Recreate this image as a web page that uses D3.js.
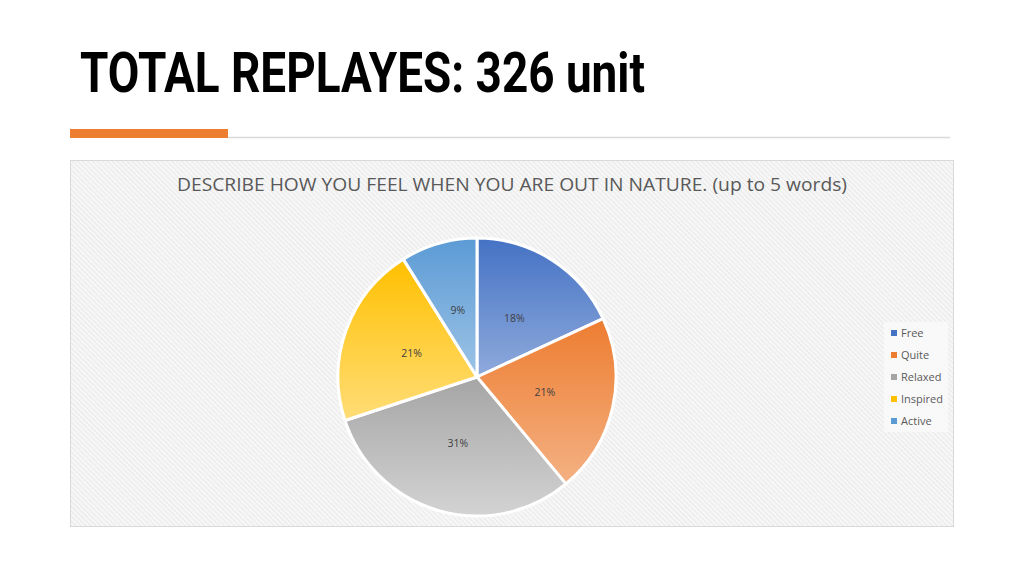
<!DOCTYPE html>
<html>
<head>
<meta charset="utf-8">
<script src="https://d3js.org/d3.v7.min.js"></script>
<style>
  body { margin: 0; padding: 0; background: #fff; }
  svg { display: block; }
  .title { font-family: Roboto, 'Liberation Sans', sans-serif; font-weight: 700; fill: #000; }
  .ctitle { font-family: 'Open Sans', 'Liberation Sans', sans-serif; fill: #595959; }
  .lbl { font-family: 'Open Sans', 'Liberation Sans', sans-serif; font-size: 10.5px; fill: #404040; }
  .leg { font-family: 'Open Sans', 'Liberation Sans', sans-serif; font-size: 11px; fill: #595959; }
</style>
</head>
<body>
<script>
// data (326 replies in total)
var categories = ["Free", "Quite", "Relaxed", "Inspired", "Active"];
var counts = [59, 68, 101, 69, 29];
var topColors = ["#4472C4", "#ED7D31", "#A5A5A5", "#FFC000", "#5B9BD5"];
var bottomColors = ["#8FAADC", "#F4B183", "#D3D3D3", "#FFDD77", "#9DC3E6"];

var W = 1024, H = 576;
var svg = d3.select("body").append("svg").attr("width", W).attr("height", H);
var defs = svg.append("defs");

// hatched background of the chart box
var pat = defs.append("pattern")
    .attr("id", "hatch").attr("patternUnits", "userSpaceOnUse")
    .attr("width", 3.5).attr("height", 3.5)
    .attr("patternTransform", "rotate(-45)");
pat.append("rect").attr("width", 3.5).attr("height", 3.5).attr("fill", "#f6f6f6");
pat.append("line").attr("x1", 0).attr("y1", 0).attr("x2", 0).attr("y2", 3.5)
    .attr("stroke", "#e2e2e2").attr("stroke-width", 1.2);

categories.forEach(function (c, i) {
    var g = defs.append("linearGradient").attr("id", "grad" + i)
        .attr("x1", 0).attr("y1", 0).attr("x2", 0).attr("y2", 1);
    g.append("stop").attr("offset", "0%").attr("stop-color", topColors[i]);
    g.append("stop").attr("offset", "100%").attr("stop-color", bottomColors[i]);
});

// slide title
svg.append("text").attr("class", "title")
    .attr("x", 80).attr("y", 92)
    .attr("font-size", 50).attr("transform", "translate(0,-9.2) scale(1,1.1)")
    .attr("textLength", 565).attr("lengthAdjust", "spacingAndGlyphs")
    .text("TOTAL REPLAYES: 326 unit");

svg.append("line").attr("x1", 228).attr("x2", 950).attr("y1", 137.5).attr("y2", 137.5)
    .attr("stroke", "#d9d9d9").attr("stroke-width", 1.5);
svg.append("rect").attr("x", 70).attr("y", 129).attr("width", 158).attr("height", 9)
    .attr("fill", "#ED7D31");

// chart box
svg.append("rect").attr("x", 70.5).attr("y", 160.5).attr("width", 883).attr("height", 366)
    .attr("fill", "url(#hatch)").attr("stroke", "#d9d9d9");

svg.append("text").attr("class", "ctitle")
    .attr("x", 512).attr("y", 191).attr("text-anchor", "middle")
    .attr("font-size", 18)
    .attr("textLength", 670).attr("lengthAdjust", "spacingAndGlyphs")
    .text("DESCRIBE HOW YOU FEEL WHEN YOU ARE OUT IN NATURE. (up to 5 words)");

// pie
var cx = 477, cy = 377, r = 139;
var total = d3.sum(counts);
var pie = d3.pie().sort(null).value(function (d) { return d; });
var arc = d3.arc().innerRadius(0).outerRadius(r);
var arcs = pie(counts);

var pg = svg.append("g").attr("transform", "translate(" + cx + "," + cy + ")");
pg.selectAll("path.slice").data(arcs).enter().append("path")
    .attr("class", "slice")
    .attr("d", arc)
    .attr("fill", function (d, i) { return "url(#grad" + i + ")"; })
    .attr("stroke", "#fff").attr("stroke-width", 3).attr("stroke-linejoin", "round");

pg.selectAll("text.lbl").data(arcs).enter().append("text")
    .attr("class", "lbl")
    .attr("transform", function (d) { return "translate(" + arc.centroid(d) + ")"; })
    .attr("text-anchor", "middle").attr("dy", "0.35em")
    .text(function (d) { return Math.round(d.value / total * 100) + "%"; });

// legend
var lg = svg.append("g");
lg.append("rect").attr("x", 884).attr("y", 322).attr("width", 64).attr("height", 110)
    .attr("fill", "#fafafa").attr("opacity", 0.8);
var ly = d3.scalePoint().domain(categories).range([333, 421]);
lg.selectAll("rect.sw").data(categories).enter().append("rect")
    .attr("class", "sw")
    .attr("x", 891).attr("y", function (d) { return ly(d) - 3; })
    .attr("width", 6).attr("height", 6)
    .attr("fill", function (d, i) { return topColors[i]; });
lg.selectAll("text.leg").data(categories).enter().append("text")
    .attr("class", "leg")
    .attr("x", 901).attr("y", function (d) { return ly(d); }).attr("dy", "0.35em")
    .text(function (d) { return d; });
</script>
</body>
</html>
